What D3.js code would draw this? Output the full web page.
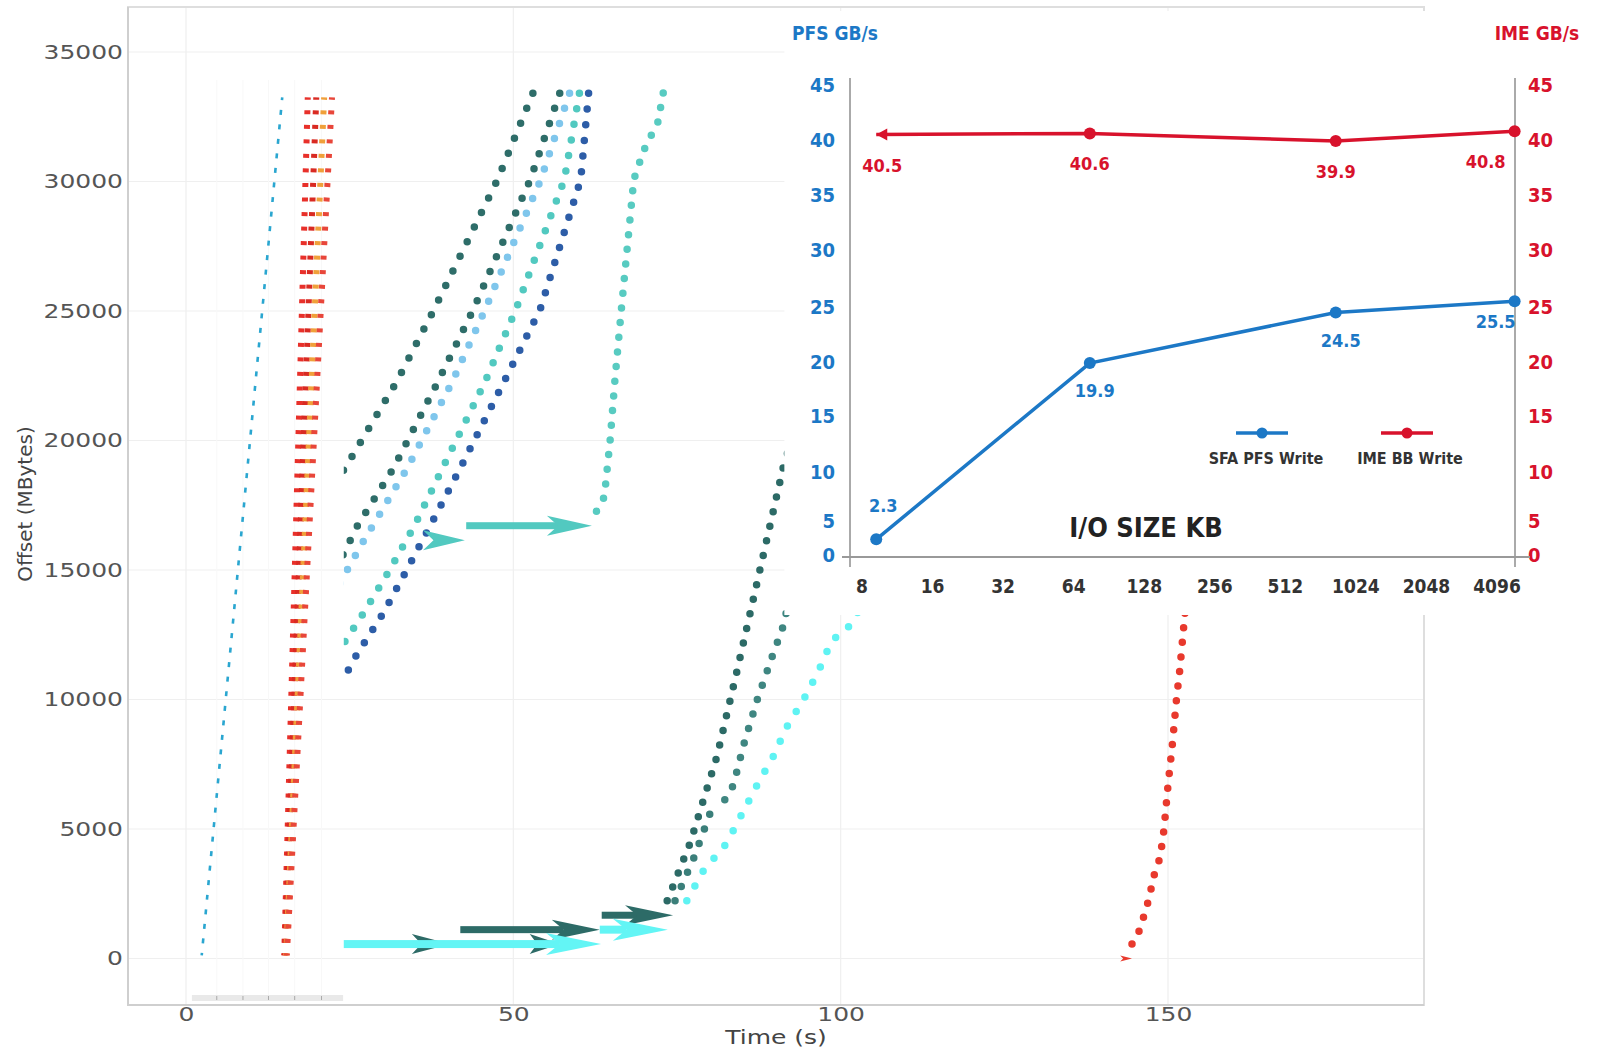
<!DOCTYPE html>
<html>
<head>
<meta charset="utf-8">
<script src="https://cdn.jsdelivr.net/npm/d3@7"></script>
<style>
body { margin: 0; background: #fff; }
svg { display: block; }
</style>
</head>
<body>
<svg width="1597" height="1048"></svg>
<script>
// ---- main trace: time (s) vs offset (MBytes) ----
var timeTicks = [0, 50, 100, 150];
var offsetTicks = [0, 5000, 10000, 15000, 20000, 25000, 30000, 35000];
var panelTicks = [4.7, 8.7, 12.6, 16.6, 20.7];

// left pasted panel
var ssdTrace = [[2.4, 120], [14.7, 33250]];
var redColumns = [
    [[15.0, 120], [18.6, 33250]],
    [[15.1, 120], [19.9, 33250]],
    [[15.3, 120], [21.1, 33250]],
    [[15.4, 120], [22.3, 33250]]
];

// middle panel
var darkTeal1 = [[21.2, 17824], [24.3, 18938], [32.2, 22280], [37.9, 25065], [47.6, 30078], [53.0, 33420]];
var darkTeal2 = [[22.9, 15039], [24.0, 15596], [26.2, 16710], [31.7, 18938], [38.5, 22280], [43.9, 25065], [52.6, 30078], [57.1, 33420]];
var lightBlue = [[23.5, 14482], [24.7, 15039], [27.2, 16153], [33.8, 18938], [40.7, 22280], [45.7, 25065], [54.2, 30078], [58.6, 33420]];
var teal = [[23.2, 11697], [24.3, 12254], [27.2, 13368], [31.2, 15039], [34.9, 16710], [39.2, 18938], [45.7, 22280], [50.4, 25065], [57.8, 30078], [60.1, 33420]];
var darkBlue = [[24.8, 11140], [26.0, 11697], [30.2, 13368], [33.8, 15039], [37.3, 16710], [41.9, 18938], [48.6, 22280], [54.1, 25065], [60.3, 30078], [61.5, 33420]];
var lateTeal = [[62.7, 17267], [63.9, 17824], [64.8, 20052], [65.5, 22280], [66.5, 25065], [68.4, 30078], [69.9, 31192], [72.1, 32306], [72.9, 33420]];

// lower series
var darkTeal3 = [[73.5, 2228], [77.0, 4456], [81.1, 7798], [84.2, 11140], [87.7, 15039], [91.2, 18938], [93.2, 20609]];
var darkTealPair = [[74.7, 2228], [77.6, 3899], [80.0, 5570]];
var darkTeal4 = [[82.3, 6127], [83.6, 6684], [85.3, 8355], [87.3, 10026], [89.6, 11697], [91.2, 12811], [93.2, 15039]];
var cyanTrace = [[76.5, 2228], [78.9, 3342], [82.6, 4456], [84.9, 5570], [87.2, 6684], [89.7, 7798], [91.7, 8912], [94.4, 10026], [96.7, 11140], [98.6, 12254], [101.2, 12811], [102.6, 13368]];
var lateRed = [[144.5, 557], [145.7, 1114], [147.0, 2228], [148.0, 3342], [148.8, 3899], [149.4, 5013], [150.0, 6684], [150.7, 8355], [151.3, 10026], [151.8, 11140], [152.4, 12811], [152.6, 13368], [153.4, 15596]];

// arrows: [start time, end time, offset]
var tealArrows = [[42.8, 62.0, 16710], [36.2, 42.6, 16153]];
var darkTealArrows = [[34.5, 40.3, 557], [52.5, 57.1, 557], [41.9, 63.2, 1114], [63.5, 74.4, 1671]];
var cyanArrows = [[22.0, 63.4, 557], [63.2, 73.6, 1114]];
var redArrows = [[142.7, 144.5, 0]];

// ---- inset: bandwidth vs I/O size ----
var ioSizes = [9.2, 75, 840, 4870];
var ioTicks = [8, 16, 32, 64, 128, 256, 512, 1024, 2048, 4096];
var gbTicks = [0, 5, 10, 15, 20, 25, 30, 35, 40, 45];
var pfsWrite = [2.3, 19.9, 24.5, 25.5];
var imeWrite = [40.5, 40.6, 39.9, 40.8];
var legendNames = ["SFA PFS Write", "IME BB Write"];

var rowStep = 557;
var svg = d3.select("svg");
var box = {left: 128, top: 7, right: 1424, bottom: 1005};

var x = d3.scaleLinear().domain([0, 150]).range([186, 1168]);
var y = d3.scaleLinear().domain([0, 35000]).range([958.5, 52]);

// grid
svg.append("g").selectAll("line")
    .data(offsetTicks).enter().append("line")
    .attr("x1", box.left).attr("x2", box.right)
    .attr("y1", function(d){ return y(d); }).attr("y2", function(d){ return y(d); })
    .style("stroke", "#efefef").style("stroke-width", 1.2);
svg.append("g").selectAll("line")
    .data(timeTicks).enter().append("line")
    .attr("x1", function(d){ return x(d); }).attr("x2", function(d){ return x(d); })
    .attr("y1", box.top).attr("y2", box.bottom)
    .style("stroke", "#efefef").style("stroke-width", 1.2);

// left panel leftovers
svg.append("g").selectAll("line")
    .data(panelTicks).enter().append("line")
    .attr("x1", function(d){ return x(d); }).attr("x2", function(d){ return x(d); })
    .attr("y1", 80).attr("y2", 995)
    .style("stroke", "#f8f8f8");
svg.append("rect")
    .attr("x", x(0.9)).attr("y", 995)
    .attr("width", x(24.0) - x(0.9)).attr("height", 6)
    .style("fill", "#e9e9e9");
svg.append("g").selectAll("line")
    .data(panelTicks).enter().append("line")
    .attr("x1", function(d){ return x(d); }).attr("x2", function(d){ return x(d); })
    .attr("y1", 996).attr("y2", 1000)
    .style("stroke", "#aaa");

// frame
svg.append("rect")
    .attr("x", box.left).attr("y", box.top)
    .attr("width", box.right - box.left).attr("height", box.bottom - box.top)
    .style("fill", "none").style("stroke", "#dedede").style("stroke-width", 2);
svg.append("path")
    .attr("d", "M" + box.left + "," + box.top + "V" + box.bottom + "H" + box.right)
    .style("fill", "none").style("stroke", "#cfcfcf").style("stroke-width", 2);

// axes
var gy = svg.append("g")
    .attr("transform", "translate(" + box.left + ",0)")
    .call(d3.axisLeft(y).tickValues(offsetTicks).tickFormat(d3.format("d")).tickSize(0).tickPadding(4));
var gx = svg.append("g")
    .attr("transform", "translate(0," + box.bottom + ")")
    .call(d3.axisBottom(x).tickValues(timeTicks).tickFormat(d3.format("d")).tickSize(0).tickPadding(2));
[gy, gx].forEach(function(g){
    g.select(".domain").remove();
    g.selectAll("text")
        .attr("transform", "scale(1.25,1)")
        .attr("font-family", "DejaVu Sans")
        .attr("font-size", "20px")
        .attr("fill", "#555");
});

svg.append("text")
    .attr("text-anchor", "middle")
    .attr("font-family", "DejaVu Sans")
    .attr("font-size", "20px")
    .attr("fill", "#444")
    .attr("transform", "scale(1.25,1) translate(" + 776 / 1.25 + ",1044)")
    .text("Time (s)");
svg.append("text")
    .attr("transform", "translate(32,504) rotate(-90)")
    .attr("text-anchor", "middle")
    .attr("font-family", "DejaVu Sans")
    .attr("font-size", "20px")
    .attr("fill", "#444")
    .text("Offset (MBytes)");

// traces
var line = d3.line()
    .x(function(d){ return x(d[0]); })
    .y(function(d){ return y(d[1]); });

function dotted(g, data, color, size, dash) {
    var path = g.append("path")
        .datum(data)
        .attr("d", line)
        .style("fill", "none")
        .style("stroke", color)
        .style("stroke-width", size);
    var len = path.node().getTotalLength();
    var rows = Math.max(1, Math.round((data[data.length - 1][1] - data[0][1]) / rowStep));
    var gap = len / rows * 0.9995;
    if (dash) {
        path.style("stroke-linecap", "butt")
            .style("stroke-dasharray", dash + " " + (gap - dash))
            .style("stroke-dashoffset", dash / 2);
    } else {
        path.style("stroke-linecap", "round")
            .style("stroke-dasharray", "0 " + gap.toFixed(3));
    }
}

function arrow(g, a, color, head, half, shaft) {
    var x0 = x(a[0]), x1 = x(a[1]), yy = y(a[2]);
    var hl = Math.min(head, x1 - x0);
    if (x1 - x0 > hl) {
        g.append("rect")
            .attr("x", x0).attr("y", yy - shaft / 2)
            .attr("width", x1 - hl * 0.75 - x0).attr("height", shaft)
            .style("fill", color);
    }
    g.append("path")
        .attr("d", "M" + x1 + "," + yy + "L" + (x1 - hl) + "," + (yy - half) +
            "L" + (x1 - hl * 0.75) + "," + yy + "L" + (x1 - hl) + "," + (yy + half) + "Z")
        .style("fill", color);
}

var left = svg.append("g");
dotted(left, ssdTrace, "#2aa6d0", 2.6, 5);
var redCols = ["#e8302a", "#d92a22", "#f0a03a", "#e8463a"];
redColumns.forEach(function(c, i){ dotted(left, c, redCols[i], 6, 4); });

svg.append("clipPath").attr("id", "mid")
    .append("rect")
    .attr("x", x(24.1)).attr("y", box.top)
    .attr("width", box.right - x(24.1)).attr("height", box.bottom - box.top);
var mid = svg.append("g").attr("clip-path", "url(#mid)");

dotted(mid, darkTeal1, "#2e6d69", 7.5);
dotted(mid, darkTeal2, "#2e6d69", 7.5);
dotted(mid, lightBlue, "#7fc6ec", 7.5);
dotted(mid, teal, "#52c9c0", 7.5);
dotted(mid, darkBlue, "#2d5da7", 7.5);
dotted(mid, lateTeal, "#58cbc1", 7.5);

tealArrows.forEach(function(a){ arrow(mid, a, "#52c9c0", 45, 10, 7); });
darkTealArrows.forEach(function(a){ arrow(mid, a, "#2d6b67", 48, 10, 7); });
cyanArrows.forEach(function(a){ arrow(mid, a, "#63f5f5", 55, 11, 8); });
redArrows.forEach(function(a){ arrow(mid, a, "#e8392d", 12, 3, 2); });

dotted(mid, darkTeal3, "#2c6a66", 7.5);
dotted(mid, darkTealPair, "#3b7f7a", 7.5);
dotted(mid, darkTeal4, "#3f8681", 7.5);
dotted(mid, cyanTrace, "#5ff3f3", 7.5);
dotted(mid, lateRed, "#e8392d", 7.5);

// ---- inset ----
var blue = "#1c78c6", red = "#d8122c";
var condensed = "'DejaVu Sans Condensed', 'Liberation Sans Narrow', 'DejaVu Sans', sans-serif";
var insetLeft = 850, insetRight = 1515, insetBase = 557;

var xi = d3.scaleLog().base(2).domain([8, 4096]).range([862, 1497]);
var yi = d3.scaleLinear().domain(gbTicks).range([555, 521, 472, 416, 362, 307, 250, 195, 140, 85]);

var inset = svg.append("g")
    .attr("font-family", condensed)
    .attr("font-weight", "bold")
    .style("font-stretch", "condensed");

inset.append("rect")
    .attr("x", x(91.4)).attr("y", 11)
    .attr("width", 1597 - x(91.4)).attr("height", 604)
    .style("fill", "#fff");

inset.append("text").attr("x", 835).attr("y", 40).attr("text-anchor", "middle")
    .attr("font-size", "19px").attr("fill", blue).text("PFS GB/s");
inset.append("text").attr("x", 1537).attr("y", 40).attr("text-anchor", "middle")
    .attr("font-size", "19px").attr("fill", red).text("IME GB/s");

inset.selectAll(".axl").data(gbTicks).enter().append("text")
    .attr("x", insetLeft - 15).attr("y", function(d){ return yi(d); })
    .attr("dy", "0.36em").attr("text-anchor", "end")
    .attr("font-size", "20px").attr("fill", blue)
    .text(function(d){ return d; });
inset.selectAll(".axr").data(gbTicks).enter().append("text")
    .attr("x", insetRight + 13).attr("y", function(d){ return yi(d); })
    .attr("dy", "0.36em").attr("text-anchor", "start")
    .attr("font-size", "20px").attr("fill", red)
    .text(function(d){ return d; });

inset.append("line").attr("x1", insetLeft).attr("x2", insetLeft)
    .attr("y1", 78).attr("y2", 567).style("stroke", "#aaa").style("stroke-width", 2);
inset.append("line").attr("x1", insetRight).attr("x2", insetRight)
    .attr("y1", 78).attr("y2", 567).style("stroke", "#aaa").style("stroke-width", 2);
inset.append("line").attr("x1", insetLeft - 8).attr("x2", insetRight + 15)
    .attr("y1", insetBase).attr("y2", insetBase).style("stroke", "#999").style("stroke-width", 2);

inset.selectAll(".axb").data(ioTicks).enter().append("text")
    .attr("x", function(d){ return xi(d); }).attr("y", 593)
    .attr("text-anchor", "middle")
    .attr("font-size", "19px").attr("fill", "#333")
    .text(function(d){ return d; });

inset.append("text").attr("x", 1146).attr("y", 537).attr("text-anchor", "middle")
    .attr("font-size", "27px").attr("fill", "#222").text("I/O SIZE KB");

var pfsPts = ioSizes.map(function(s, i){ return [xi(s), yi(pfsWrite[i]), pfsWrite[i]]; });
var imePts = ioSizes.map(function(s, i){ return [xi(s), yi(imeWrite[i]), imeWrite[i]]; });
var lineIn = d3.line();

inset.append("path").datum(imePts).attr("d", lineIn)
    .style("fill", "none").style("stroke", red).style("stroke-width", 3.5);
inset.append("path")
    .attr("d", "M" + imePts[0][0] + "," + imePts[0][1] + "l11,-6v12z")
    .style("fill", red);
inset.selectAll(".imed").data(imePts.slice(1)).enter().append("circle")
    .attr("cx", function(d){ return d[0]; }).attr("cy", function(d){ return d[1]; })
    .attr("r", 6).style("fill", red);

inset.append("path").datum(pfsPts).attr("d", lineIn)
    .style("fill", "none").style("stroke", blue).style("stroke-width", 3.5);
inset.selectAll(".pfsd").data(pfsPts).enter().append("circle")
    .attr("cx", function(d){ return d[0]; }).attr("cy", function(d){ return d[1]; })
    .attr("r", 6).style("fill", blue);

// value labels
inset.selectAll(".imel").data(imePts).enter().append("text")
    .attr("x", function(d, i){ return i === imePts.length - 1 ? d[0] - 9 : d[0] + 6 * (i === 0); })
    .attr("y", function(d){ return d[1] + 37; })
    .attr("text-anchor", function(d, i){ return i === imePts.length - 1 ? "end" : "middle"; })
    .attr("font-size", "18px").attr("fill", red)
    .text(function(d){ return d[2].toFixed(1); });
inset.selectAll(".pfsl").data(pfsPts).enter().append("text")
    .attr("x", function(d, i){ return i === pfsPts.length - 1 ? d[0] + 1 : d[0] + (i === 0 ? 7 : 5); })
    .attr("y", function(d, i){ return i === 0 ? d[1] - 27 : d[1] + (i === pfsPts.length - 1 ? 27 : 34); })
    .attr("text-anchor", function(d, i){ return i === pfsPts.length - 1 ? "end" : "middle"; })
    .attr("font-size", "18px").attr("fill", blue)
    .text(function(d){ return d[2].toFixed(1); });

// legend
var legend = inset.selectAll(".leg").data(legendNames).enter().append("g")
    .attr("transform", function(d, i){ return "translate(" + (1262 + i * 145) + ",433)"; });
legend.append("line").attr("x1", -26).attr("x2", 26)
    .style("stroke", function(d, i){ return i ? red : blue; }).style("stroke-width", 3.5);
legend.append("circle").attr("r", 5.5)
    .style("fill", function(d, i){ return i ? red : blue; });
legend.append("text").attr("y", 31).attr("text-anchor", "middle")
    .attr("x", function(d, i){ return i ? 3 : 4; })
    .attr("font-size", "16px").attr("fill", "#333")
    .text(function(d){ return d; });
</script>
</body>
</html>
